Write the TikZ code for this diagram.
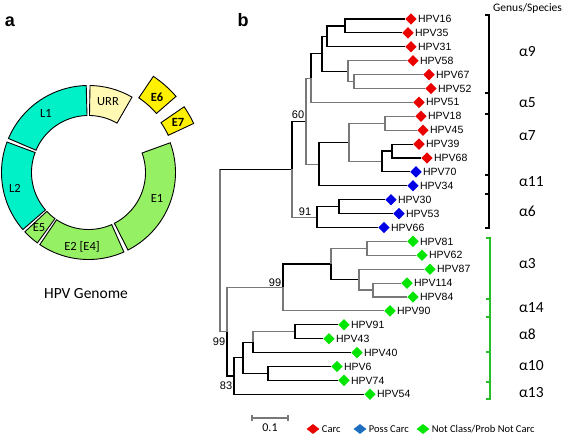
\documentclass[tikz,border=0pt]{standalone}
\usepackage{fontspec}
\setmainfont{Carlito}
\newfontfamily\arialf{Liberation Sans}
\usetikzlibrary{shapes.geometric}
\definecolor{turq}{RGB}{0,240,200}
\definecolor{lgreen}{RGB}{150,240,100}
\definecolor{pale}{RGB}{255,249,180}
\definecolor{yel}{RGB}{255,240,0}
\definecolor{cred}{RGB}{235,0,0}
\definecolor{cblue}{RGB}{0,0,230}
\definecolor{cgreen}{RGB}{0,230,0}
\definecolor{lblue}{RGB}{30,110,190}
\definecolor{brgreen}{RGB}{40,190,40}
\definecolor{brgray}{RGB}{120,120,120}
\newcommand\ringseg[5]{%
  \filldraw[fill=#1, segline] plot[domain=-#2:-#3, samples=30] (\x:#5) -- plot[domain=-#3:-#2, samples=30] (\x:#4) -- cycle;}
\begin{document}
\begin{tikzpicture}[x=1pt,y=-1pt,
  segline/.style={draw=black, line width=0.9pt},
  blk/.style={draw=black, line width=1.1pt},
  gry/.style={draw=brgray, line width=1.1pt},
  dm/.style={diamond, fill=#1, draw=none, minimum width=11.5pt, minimum height=11.5pt, inner sep=0pt},
  lgd/.style={diamond, fill=#1, draw=none, minimum width=13pt, minimum height=10pt, inner sep=0pt},
  leaf/.style={font=\arialf\fontsize{10.5}{12}\selectfont, anchor=west, inner sep=1pt},
  boot/.style={font=\arialf\fontsize{11}{12}\selectfont, inner sep=0pt},
  alph/.style={font=\fontsize{15.5}{17}\selectfont, anchor=west, inner sep=0pt},
  glab/.style={font=\fontsize{12.5}{14}\selectfont, inner sep=0pt},
  gbold/.style={font=\bfseries\fontsize{12.5}{14}\selectfont, inner sep=0pt},
  panel/.style={font=\arialf\bfseries\fontsize{18}{20}\selectfont, inner sep=0pt},
  legtxt/.style={font=\fontsize{10.5}{12}\selectfont, anchor=west, inner sep=0pt},
  brk/.style={line width=1.4pt}
]
\useasboundingbox[fill=white] (0,0) rectangle (567,435);

% ---------- panel a : genome ring ----------
\node[panel] (pa) at (10,22) {a};
\begin{scope}[shift={(88.5,172.5)}]
  \ringseg{pale}{60}{89}{57}{87}
  \ringseg{turq}{91.5}{157}{57}{87}
  \ringseg{turq}{159.5}{221}{57}{87}
  \ringseg{lgreen}{223}{234}{57}{87}
  \ringseg{lgreen}{236}{294}{57}{87}
  \ringseg{lgreen}{297}{380}{57}{87}
  \ringseg{yel}{41}{56}{90}{116}
  \ringseg{yel}{25}{34.5}{88}{116}
\end{scope}
\node[glab] (tURR) at (108,102) {URR};
\node[glab] (tL1) at (46,113) {L1};
\node[glab] (tL2) at (15,188) {L2};
\node[glab] (tE5) at (39,228) {E5};
\node[glab] (tE2) at (82,247) {E2 [E4]};
\node[glab] (tE1) at (157,198) {E1};
\node[gbold] (tE6) at (157,97) {E6};
\node[gbold] (tE7) at (178,122) {E7};
\node[font=\fontsize{15.5}{18}\selectfont, inner sep=0pt] (gen) at (86,294) {HPV Genome};

% ---------- panel b : tree ----------
\node[panel] (pb) at (243,20) {b};
\node[font=\fontsize{11.5}{13}\selectfont, anchor=west, inner sep=0pt] (gs) at (493,8) {Genus/Species};

% leaves
\node[dm=cred]   (d16)  at (411,19)    {}; \node[leaf] at (d16.east)  {HPV16};
\node[dm=cred]   (d35)  at (408,32.9)  {}; \node[leaf] at (d35.east)  {HPV35};
\node[dm=cred]   (d31)  at (411,46.8)  {}; \node[leaf] at (d31.east)  {HPV31};
\node[dm=cred]   (d58)  at (413,60.7)  {}; \node[leaf] at (d58.east)  {HPV58};
\node[dm=cred]   (d67)  at (429,74.6)  {}; \node[leaf] at (d67.east)  {HPV67};
\node[dm=cred]   (d52)  at (431,88.5)  {}; \node[leaf] at (d52.east)  {HPV52};
\node[dm=cred]   (d51)  at (419,102.4) {}; \node[leaf] at (d51.east)  {HPV51};
\node[dm=cred]   (d18)  at (421,116.3) {}; \node[leaf] at (d18.east)  {HPV18};
\node[dm=cred]   (d45)  at (423,130.2) {}; \node[leaf] at (d45.east)  {HPV45};
\node[dm=cred]   (d39)  at (419,144.1) {}; \node[leaf] at (d39.east)  {HPV39};
\node[dm=cred]   (d68)  at (427,158)   {}; \node[leaf] at (d68.east)  {HPV68};
\node[dm=cblue]  (d70)  at (416,171.9) {}; \node[leaf] at (d70.east)  {HPV70};
\node[dm=cblue]  (d34)  at (413,185.8) {}; \node[leaf] at (d34.east)  {HPV34};
\node[dm=cblue]  (d30)  at (391,199.7) {}; \node[leaf] at (d30.east)  {HPV30};
\node[dm=cblue]  (d53)  at (399,213.6) {}; \node[leaf] at (d53.east)  {HPV53};
\node[dm=cblue]  (d66)  at (384,227.5) {}; \node[leaf] at (d66.east)  {HPV66};
\node[dm=cgreen] (d81)  at (413,241.4) {}; \node[leaf] at (d81.east)  {HPV81};
\node[dm=cgreen] (d62)  at (422,255.3) {}; \node[leaf] at (d62.east)  {HPV62};
\node[dm=cgreen] (d87)  at (430,269.2) {}; \node[leaf] at (d87.east)  {HPV87};
\node[dm=cgreen] (d114) at (407,283.1) {}; \node[leaf] at (d114.east) {HPV114};
\node[dm=cgreen] (d84)  at (413,297)   {}; \node[leaf] at (d84.east)  {HPV84};
\node[dm=cgreen] (d90)  at (390,310.9) {}; \node[leaf] at (d90.east)  {HPV90};
\node[dm=cgreen] (d91)  at (344,324.8) {}; \node[leaf] at (d91.east)  {HPV91};
\node[dm=cgreen] (d43)  at (329,338.7) {}; \node[leaf] at (d43.east)  {HPV43};
\node[dm=cgreen] (d40)  at (357,352.6) {}; \node[leaf] at (d40.east)  {HPV40};
\node[dm=cgreen] (d6)   at (337,366.5) {}; \node[leaf] at (d6.east)   {HPV6};
\node[dm=cgreen] (d74)  at (344,380.4) {}; \node[leaf] at (d74.east)  {HPV74};
\node[dm=cgreen] (d54)  at (370,394.3) {}; \node[leaf] at (d54.east)  {HPV54};

% internal nodes
\coordinate (root) at (220,250.4);
\coordinate (A) at (292,169.1);
\coordinate (B) at (227,331.8);
\coordinate (M) at (306,121.1);
\coordinate (Y) at (317,217.1);
\coordinate (N) at (311,78.1);
\coordinate (T) at (319,164.1);
\coordinate (O) at (322,53.8);
\coordinate (P) at (327,36.4);
\coordinate (Q) at (345,26);
\coordinate (R) at (348,71.1);
\coordinate (S) at (354,81.5);
\coordinate (U) at (349,142.4);
\coordinate (V) at (385,123.3);
\coordinate (W) at (382,161.5);
\coordinate (X) at (392,151);
\coordinate (Z) at (339,206.6);
\coordinate (C) at (283,287.5);
\coordinate (I) at (331,264);
\coordinate (J) at (367,248.4);
\coordinate (K) at (359,279.6);
\coordinate (L) at (373,290);
\coordinate (D) at (234,376);
\coordinate (E) at (243,357.8);
\coordinate (F) at (253,342.2);
\coordinate (G) at (295,331.8);
\coordinate (H) at (268,373.5);

% edges
\draw[gry] (root) -- (root|-A);
\draw[blk] (root|-A) -- (A);
\draw[gry] (root) |- (B);
\draw[blk] (A) |- (M);
\draw[gry] (A) |- (Y);
\draw[gry] (M) |- (N);
\draw[gry] (M) |- (T);
\draw[blk] (N) |- (O);
\draw[gry] (N) |- (d51.west);
\draw[blk] (O) |- (P);
\draw[blk] (O) |- (R);
\draw[blk] (P) |- (Q);
\draw[blk] (P) |- (d31.west);
\draw[blk] (Q) |- (d16.west);
\draw[blk] (Q) |- (d35.west);
\draw[gry] (R) |- (d58.west);
\draw[gry] (R) |- (S);
\draw[gry] (S) |- (d67.west);
\draw[gry] (S) |- (d52.west);
\draw[blk] (T) |- (U);
\draw[blk] (T) |- (d34.west);
\draw[gry] (U) |- (V);
\draw[gry] (U) |- (W);
\draw[gry] (V) |- (d18.west);
\draw[gry] (V) |- (d45.west);
\draw[blk] (W) |- (X);
\draw[blk] (W) |- (d70.west);
\draw[blk] (X) |- (d39.west);
\draw[blk] (X) |- (d68.west);
\draw[blk] (Y) |- (Z);
\draw[blk] (Y) |- (d66.west);
\draw[blk] (Z) |- (d30.west);
\draw[blk] (Z) |- (d53.west);
\draw[gry] (B) |- (C);
\draw[blk] (B) |- (D);
\draw[blk] (C) |- (I);
\draw[gry] (C) |- (d90.west);
\draw[gry] (I) |- (J);
\draw[blk] (I) |- (K);
\draw[gry] (J) |- (d81.west);
\draw[gry] (J) |- (d62.west);
\draw[gry] (K) |- (d87.west);
\draw[gry] (K) |- (L);
\draw[gry] (L) |- (d114.west);
\draw[gry] (L) |- (d84.west);
\draw[blk] (D) |- (E);
\draw[blk] (D) |- (d54.west);
\draw[blk] (E) |- (F);
\draw[blk] (E) |- (H);
\draw[gry] (F) |- (G);
\draw[blk] (F) |- (d40.west);
\draw[blk] (G) |- (d91.west);
\draw[blk] (G) |- (d43.west);
\draw[blk] (H) |- (d6.west);
\draw[blk] (H) |- (d74.west);

% bootstrap values
\node[boot] (b60) at (298,115) {60};
\node[boot] (b91) at (305,212) {91};
\node[boot] (b99a) at (275,283) {99};
\node[boot] (b99b) at (219,342) {99};
\node[boot] (b83) at (226,386) {83};

% brackets
\draw[brk, black] (485,15) -- (489,15) -- (489,228) -- (485,228);
\foreach \yy in {93,114,175,194} \draw[brk, black] (489,\yy) -- (485,\yy);
\draw[brk, brgreen] (486,238) -- (490,238) -- (490,399) -- (486,399);
\foreach \yy in {299,317,352,382} \draw[brk, brgreen] (490,\yy) -- (486,\yy);

\node[alph] (a9)  at (519,52)  {α9};
\node[alph] (a5)  at (519,103) {α5};
\node[alph] (a7)  at (519,136) {α7};
\node[alph] (a11) at (519,182) {α11};
\node[alph] (a6)  at (519,211) {α6};
\node[alph] (a3)  at (519,264) {α3};
\node[alph] (a14) at (519,308) {α14};
\node[alph] (a8)  at (519,334) {α8};
\node[alph] (a10) at (519,366) {α10};
\node[alph] (a13) at (519,393) {α13};

% scale bar and legend
\coordinate (sb1) at (252,418);
\coordinate (sb2) at (288,418);
\draw[gry] (sb1) -- (sb2);
\draw[gry] ([yshift=-3pt]sb1) -- ([yshift=3pt]sb1);
\draw[gry] ([yshift=-3pt]sb2) -- ([yshift=3pt]sb2);
\node[font=\fontsize{12}{14}\selectfont, inner sep=0pt] (sbl) at (270,428) {0.1};

\node[lgd=cred]   (lr) at (313,429) {};
\node[legtxt] at ([xshift=2pt]lr.east) {Carc};
\node[lgd=lblue]  (lb) at (360,429) {};
\node[legtxt] at ([xshift=2pt]lb.east) {Poss Carc};
\node[lgd=cgreen] (lg) at (423,429) {};
\node[legtxt] at ([xshift=2pt]lg.east) {Not Class/Prob Not Carc};
\end{tikzpicture}
\end{document}
